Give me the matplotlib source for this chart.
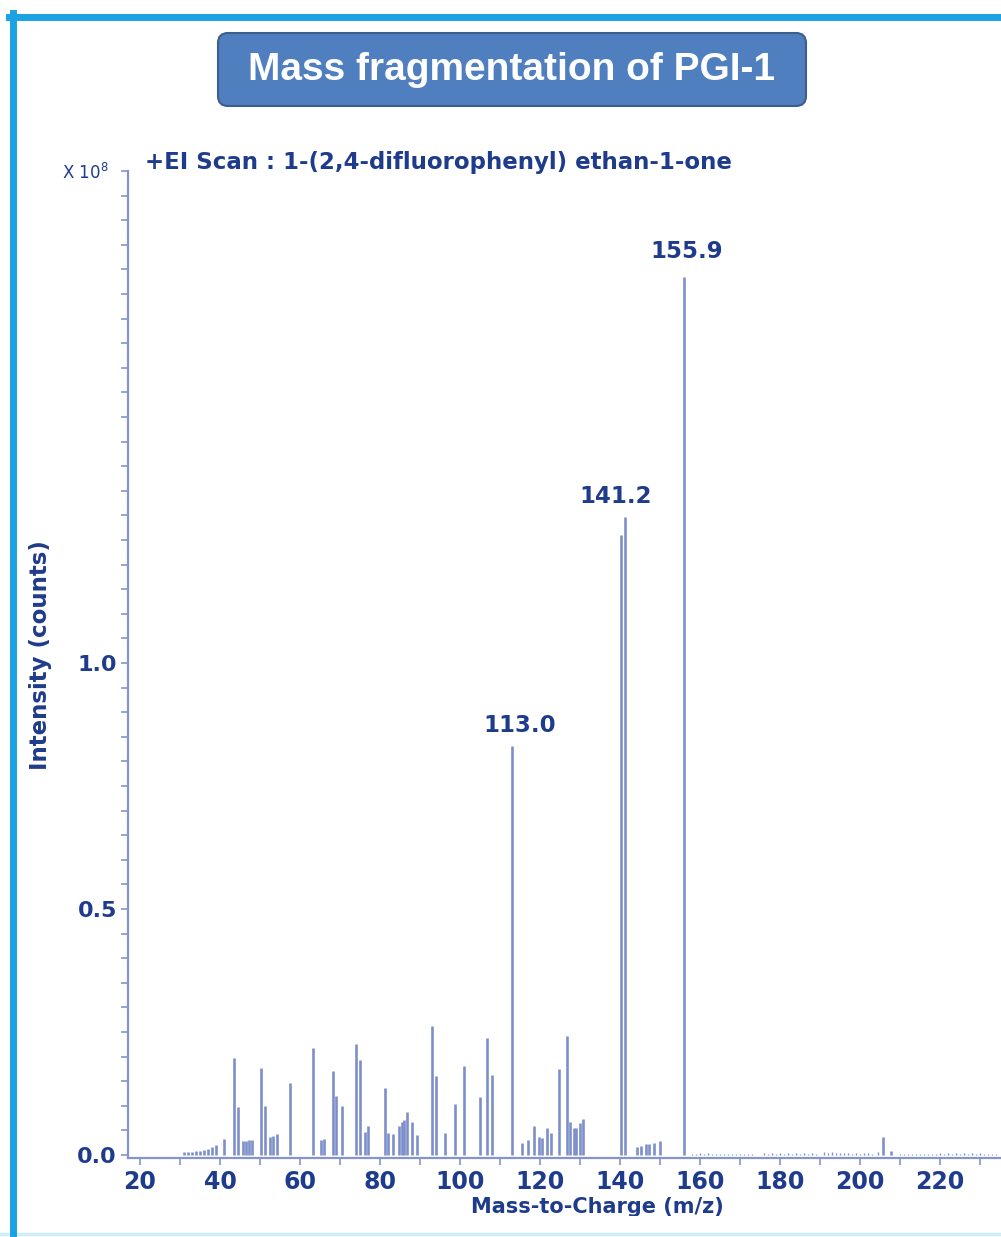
import numpy as np
import matplotlib.pyplot as plt
from matplotlib.patches import FancyBboxPatch, Rectangle
from matplotlib.lines import Line2D
from matplotlib.ticker import FixedLocator, MultipleLocator

# labelled peaks (m/z, intensity in 1e8 counts)
peak_mz = [113.0, 141.2, 155.9]
peak_int = [0.831, 1.297, 1.785]

# other fragment ions
frag_mz = [31.0, 32.0, 33.0, 34.0, 35.0, 36.0, 37.0, 38.0, 39.0, 41.0,
           43.6, 44.5, 45.7, 46.4, 47.3, 47.9, 50.3, 51.2, 52.5, 53.3, 54.2,
           57.4, 63.3, 65.3, 66.0, 68.2, 69.1, 70.6, 74.1, 75.0, 76.3, 77.1,
           81.2, 82.1, 83.2, 84.8, 85.5, 86.0, 86.8, 88.0, 89.2,
           93.0, 93.9, 96.3, 98.8, 100.9, 104.9, 106.8, 107.9,
           115.5, 116.9, 118.5, 119.7, 120.6, 121.7, 122.7, 124.7, 126.8,
           127.6, 128.4, 129.1, 130.0, 130.8, 140.2,
           144.3, 145.2, 146.5, 147.2, 148.5, 150.0, 205.7, 207.7]
frag_int = [0.007, 0.006, 0.007, 0.008, 0.009, 0.010, 0.013, 0.016, 0.021, 0.033,
            0.197, 0.097, 0.029, 0.029, 0.030, 0.030, 0.177, 0.100, 0.036, 0.039, 0.043,
            0.147, 0.218, 0.030, 0.032, 0.171, 0.119, 0.100, 0.225, 0.193, 0.047, 0.059,
            0.136, 0.045, 0.042, 0.059, 0.068, 0.071, 0.087, 0.068, 0.041,
            0.262, 0.161, 0.044, 0.104, 0.180, 0.117, 0.237, 0.163,
            0.024, 0.030, 0.059, 0.036, 0.034, 0.054, 0.045, 0.175, 0.242,
            0.068, 0.054, 0.054, 0.066, 0.073, 1.260,
            0.017, 0.019, 0.022, 0.022, 0.025, 0.028, 0.037, 0.009]

# baseline noise above the molecular ion
noise_mz = [158, 159, 160, 161, 162, 163, 164, 165, 166, 167, 168, 169, 170, 171, 172, 173,
            176, 177, 178, 179, 180, 181, 182, 183, 184, 185, 186, 187, 188, 189,
            191, 192, 193, 194, 195, 196, 197, 198, 199, 200, 201, 202, 203, 204.5,
            210, 211, 212, 213, 214, 215, 216, 217, 218, 219, 220, 221, 222, 223,
            224, 225, 226, 227, 228, 229, 230, 231, 232, 233, 234]
noise_int = [0.003, 0.002, 0.004, 0.003, 0.004, 0.002, 0.003, 0.002, 0.003, 0.002, 0.003, 0.002, 0.003, 0.002, 0.003, 0.002,
             0.004, 0.003, 0.004, 0.003, 0.004, 0.003, 0.004, 0.003, 0.004, 0.003, 0.004, 0.003, 0.004, 0.003,
             0.007, 0.005, 0.006, 0.004, 0.005, 0.004, 0.004, 0.003, 0.004, 0.003, 0.004, 0.004, 0.003, 0.006,
             0.003, 0.002, 0.003, 0.002, 0.003, 0.003, 0.002, 0.003, 0.003, 0.003, 0.004, 0.003, 0.004, 0.003,
             0.004, 0.003, 0.004, 0.003, 0.004, 0.003, 0.004, 0.003, 0.003, 0.003, 0.003]

navy = '#1F3C8C'
axis_col = '#8595CC'
bar_col = '#7D8FCA'
bold_font = ['DejaVu Sans']

fig = plt.figure(figsize=(10.01, 12.37), dpi=100)

ax = fig.add_axes([128 / 1001, 0.0635, 1 - 128 / 1001, 0.7983])
ax.vlines(frag_mz, 0, frag_int, colors=bar_col, linewidth=1.9)
ax.vlines(noise_mz, 0, noise_int, colors=bar_col, linewidth=1.0)
ax.vlines(peak_mz, 0, peak_int, colors=bar_col, linewidth=1.9)

# peak annotations
label_dx = [2.0, -2.4, 0.8]
label_dy = [0.018, 0.018, 0.028]
for m, v, dx, dy in zip(peak_mz, peak_int, label_dx, label_dy):
    ax.text(m + dx, v + dy, f'{m:.1f}', ha='center', va='bottom', color=navy,
            fontsize=16.5, fontweight='bold', family=bold_font)

ax.set_xlim(17, 235.25)
ax.set_ylim(-0.007, 2.0)
for side in ['top', 'right']:
    ax.spines[side].set_visible(False)
for side in ['left', 'bottom']:
    ax.spines[side].set_color(axis_col)
    ax.spines[side].set_linewidth(1.6)

ax.xaxis.set_major_locator(FixedLocator([20, 40, 60, 80, 100, 120, 140, 160, 180, 200, 220]))
ax.xaxis.set_minor_locator(MultipleLocator(10))
ax.yaxis.set_major_locator(FixedLocator([0.0, 0.5, 1.0]))
ax.yaxis.set_minor_locator(MultipleLocator(0.05))
ax.set_yticklabels(['0.0', '0.5', '1.0'])
ax.tick_params(which='both', length=5, width=1.2, color=axis_col)
ax.tick_params(axis='both', which='major', labelsize=16, labelcolor=navy, pad=3)
ax.tick_params(axis='x', which='major', labelsize=17)
for lbl in ax.get_xticklabels() + ax.get_yticklabels():
    lbl.set_fontweight('bold')
    lbl.set_family(bold_font)

fig.text(145 / 1001, 1 - 162 / 1237, '+EI Scan : 1-(2,4-difluorophenyl) ethan-1-one',
         ha='left', va='center', color=navy, fontsize=16.5, fontweight='bold', family=bold_font)
fig.text(0.085, 0.860, r'X 10$^{8}$', ha='center', va='center', color=navy, fontsize=12)
fig.text(0.040, 0.4705, 'Intensity (counts)', rotation=90, ha='center', va='center',
         color=navy, fontsize=16.5, fontweight='bold', family=bold_font)
fig.text(0.597, 1 - 1213 / 1237, 'Mass-to-Charge (m/z)', ha='center', va='baseline',
         color=navy, fontsize=15, fontweight='bold', family=bold_font)

# title banner
inch = fig.dpi_scale_trans
banner = FancyBboxPatch((2.18, 11.31), 5.88, 0.73, boxstyle='round,pad=0,rounding_size=0.1',
                        facecolor='#4F7FBF', edgecolor='#3B5E8E', linewidth=1.5,
                        transform=inch, zorder=5)
fig.patches.append(banner)
fig.text(5.12, 11.675, 'Mass fragmentation of PGI-1', transform=inch, ha='center', va='center',
         color='white', fontsize=28, fontweight='bold', family=['Liberation Sans'], zorder=6)

# frame around the figure, bottom band trims the axis label
fig.patches.append(Rectangle((0.0, 0.0), 10.01, 0.21, facecolor='white', edgecolor='none',
                             transform=inch, zorder=10))
fig.lines.append(Line2D([0.0, 10.01], [0.035, 0.035], color='#CDEFFB', linewidth=2.5,
                        transform=inch, zorder=11))
fig.lines.append(Line2D([0.125, 0.125], [0.0, 12.24], color='#1AA2E2', linewidth=5,
                        transform=inch, zorder=11))
fig.lines.append(Line2D([0.09, 10.01], [12.205, 12.205], color='#1AA2E2', linewidth=5,
                        transform=inch, zorder=11))

fig.savefig('out.png', dpi=100)
